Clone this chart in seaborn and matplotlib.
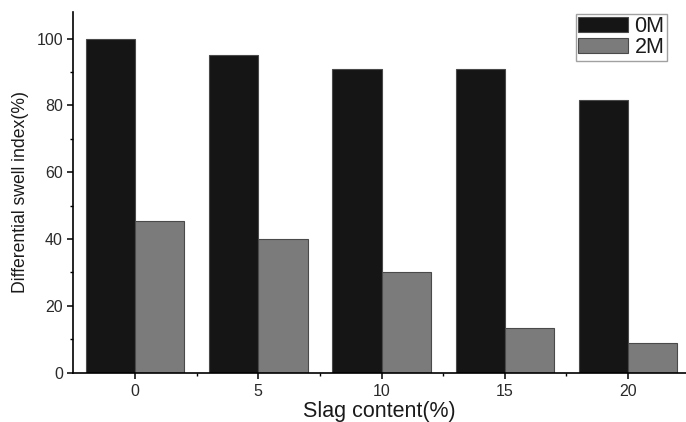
import matplotlib
matplotlib.use("Agg")
import matplotlib.pyplot as plt
from matplotlib.patches import Patch
from matplotlib.ticker import FixedLocator, MultipleLocator
import pandas as pd
import seaborn as sns

# Differential swell index by slag content, for two solution concentrations
slag_content = ["0", "5", "10", "15", "20"]
dsi_0M = [100, 95, 91, 91, 81.5]
dsi_2M = [45.5, 40, 30, 13.5, 9]
series_names = ["0M", "2M"]
series_colors = ["#151515", "#7b7b7b"]

df = pd.DataFrame({
    "slag": slag_content * 2,
    "dsi": dsi_0M + dsi_2M,
    "solution": [series_names[0]] * len(slag_content) + [series_names[1]] * len(slag_content),
})

sns.set_theme(style="white")
plt.rcParams["font.family"] = ["Liberation Sans", "DejaVu Sans"]

fig = plt.figure(figsize=(6.86, 4.22), dpi=100)
ax = fig.add_axes([0.107, 0.117, 0.893, 0.855])

sns.barplot(
    data=df, x="slag", y="dsi", hue="solution",
    order=slag_content, hue_order=series_names,
    palette=series_colors, width=0.8, dodge=True,
    edgecolor="#4a4a4a", linewidth=0.8, saturation=1,
    legend=False, ax=ax,
)

ax.set_xlim(-0.5, 4.47)
ax.set_ylim(0, 108)
ax.yaxis.set_major_locator(MultipleLocator(20))
ax.yaxis.set_minor_locator(MultipleLocator(10))
ax.xaxis.set_minor_locator(FixedLocator([0.5, 1.5, 2.5, 3.5]))

for side in ("top", "right"):
    ax.spines[side].set_visible(False)
for side in ("left", "bottom"):
    ax.spines[side].set_color("black")
    ax.spines[side].set_linewidth(1.2)

ax.tick_params(axis="both", which="both", bottom=True, left=True, top=False, right=False)
ax.tick_params(axis="both", which="major", direction="out", length=4.5, width=1.1,
               color="black", labelsize=11.5, labelcolor="#2a2a2a")
ax.tick_params(axis="both", which="minor", direction="out", length=2.5, width=1.0,
               color="black")
ax.tick_params(axis="x", which="major", pad=4)
ax.tick_params(axis="y", which="major", pad=3)

ax.set_xlabel("Slag content(%)", fontsize=15.5, color="#1a1a1a", labelpad=1)
ax.set_ylabel("Differential swell index(%)", fontsize=12.7, color="#1a1a1a", labelpad=5)

handles = [Patch(facecolor=c, edgecolor="#4a4a4a", linewidth=0.8) for c in series_colors]
leg = ax.legend(handles, series_names, loc="upper right", bbox_to_anchor=(0.969, 0.995),
                fontsize=15.5, frameon=True, fancybox=False, edgecolor="#8a8a8a",
                handlelength=2.3, handleheight=0.65, labelspacing=0.0,
                handletextpad=0.3, borderpad=0.12, borderaxespad=0.0)
leg.get_frame().set_linewidth(1.0)
for t in leg.get_texts():
    t.set_color("#1a1a1a")

fig.savefig("out.png", dpi=100, facecolor="white")
